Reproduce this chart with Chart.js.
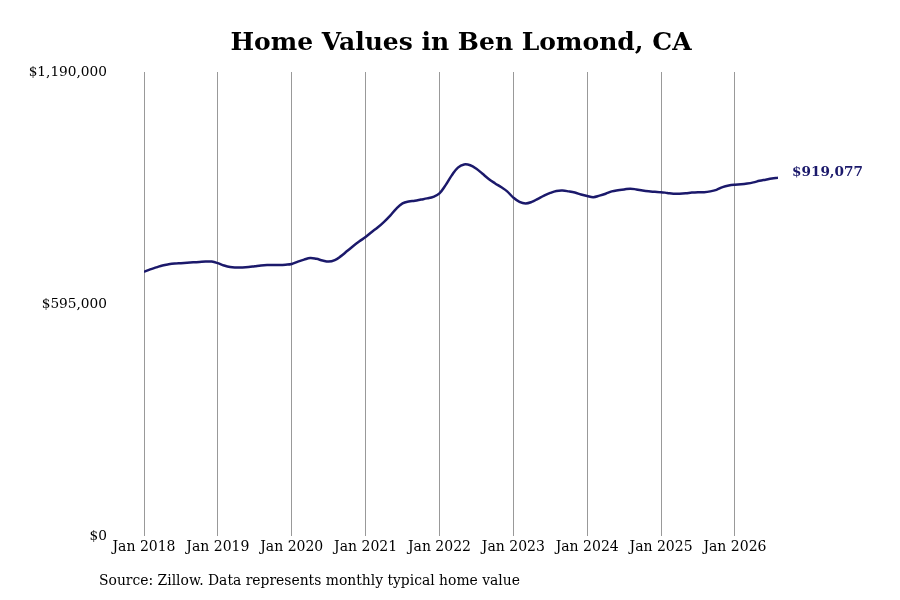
<!DOCTYPE html>
<html>
<head>
<meta charset="utf-8">
<script src="https://cdn.jsdelivr.net/npm/chart.js@4.4.1/dist/chart.umd.min.js"></script>
<style>
  html, body { margin: 0; padding: 0; background: #ffffff; }
  #wrap { width: 900px; height: 600px; }
</style>
</head>
<body>
<div id="wrap"><canvas id="c" width="900" height="600"></canvas></div>
<script>
// ---- Data ----
const homeValues = [
  678000, 684000, 689000, 694000, 697000, 699000, 700000, 701000, 702000, 703000, 704000, 704000,
  700000, 694000, 690000, 689000, 689000, 690000, 692000, 694000, 695000, 695000, 695000, 696000,
  698000, 704000, 709000, 713000, 711000, 707000, 704000, 708000, 718000, 731000, 744000, 756000,
  767000, 780000, 792000, 806000, 822000, 840000, 853000, 858000, 860000, 863000, 866000, 870000,
  879000, 900000, 925000, 945000, 953000, 951000, 942000, 929000, 916000, 905000, 895000, 884000,
  868000, 857000, 853000, 857000, 865000, 873000, 880000, 885000, 886000, 884000, 881000, 876000,
  872000, 869000, 873000, 878000, 884000, 887000, 889000, 891000, 889000, 886000, 884000, 883000,
  882000, 880000, 878000, 878000, 879000, 881000, 882000, 882000, 884000, 888000, 895000, 899000,
  901000, 902000, 904000, 907000, 911000, 914000, 917000, 919077
];
const xTickLabels = ['Jan 2018','Jan 2019','Jan 2020','Jan 2021','Jan 2022','Jan 2023','Jan 2024','Jan 2025','Jan 2026'];
const yTickValues = [0, 595000, 1190000];
const yTickLabels = ['$0', '$595,000', '$1,190,000'];
const endLabel = '$919,077';
const titleText = 'Home Values in Ben Lomond, CA';
const sourceText = 'Source: Zillow. Data represents monthly typical home value';

const points = homeValues.map((v, i) => ({ x: i, y: v }));
const LINE_COLOR = '#1b196b';
const FONT = "'DejaVu Serif', serif";

const extras = {
  id: 'extras',
  afterDraw(chart) {
    const ctx = chart.ctx;
    const xs = chart.scales.x, ys = chart.scales.y;
    const area = chart.chartArea;
    const last = homeValues.length - 1;
    const px = xs.getPixelForValue(last), py = ys.getPixelForValue(homeValues[last]);
    ctx.save();
    ctx.textBaseline = 'middle';
    // title centred over plot area
    ctx.font = "bold 25px " + FONT;
    ctx.fillStyle = '#000000';
    ctx.textAlign = 'center';
    ctx.fillText(titleText, (area.left + area.right) / 2, 43);
    // end value label
    ctx.font = "bold 13.6px " + FONT;
    ctx.fillStyle = LINE_COLOR;
    ctx.textAlign = 'left';
    ctx.fillText(endLabel, px + 14, py - 5);
    // source note
    ctx.font = "13.9px " + FONT;
    ctx.fillStyle = '#000000';
    ctx.fillText(sourceText, 99, 581);
    ctx.restore();
  }
};

new Chart(document.getElementById('c'), {
  type: 'line',
  data: {
    datasets: [{
      data: points,
      borderColor: LINE_COLOR,
      borderWidth: 2.5,
      pointRadius: 0,
      tension: 0.4,
      fill: false
    }]
  },
  options: {
    responsive: false,
    animation: false,
    devicePixelRatio: 1,
    layout: { padding: { left: 0, right: 122, top: 72, bottom: 41 } },
    plugins: {
      legend: { display: false },
      tooltip: { enabled: false },
      title: { display: false }
    },
    scales: {
      x: {
        type: 'linear',
        min: 0,
        max: homeValues.length - 1,
        afterBuildTicks(scale) {
          scale.ticks = xTickLabels.map((l, i) => ({ value: i * 12 }));
        },
        ticks: {
          autoSkip: false,
          maxRotation: 0,
          padding: 3,
          color: '#000000',
          font: { family: FONT, size: 14 },
          callback: (v, i) => xTickLabels[i]
        },
        grid: { color: '#999999', lineWidth: 1, drawTicks: false },
        border: { display: false }
      },
      y: {
        min: 0,
        max: 1190000,
        afterBuildTicks(scale) {
          scale.ticks = yTickValues.map(v => ({ value: v }));
        },
        afterFit(scale) { scale.width = 144; },
        ticks: {
          padding: 37,
          color: '#000000',
          font: { family: FONT, size: 13.7 },
          callback: (v, i) => yTickLabels[i]
        },
        grid: { display: false, drawTicks: false },
        border: { display: false }
      }
    }
  },
  plugins: [extras]
});
</script>
</body>
</html>
